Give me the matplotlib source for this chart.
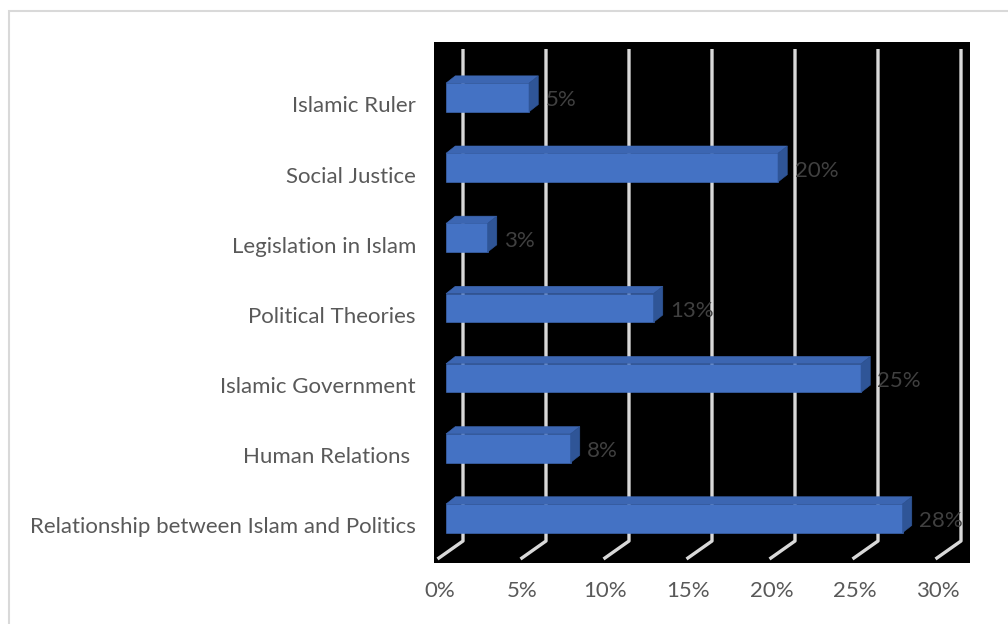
import math
import matplotlib
matplotlib.use('Agg')
import matplotlib.pyplot as plt
from matplotlib.patches import Polygon, Rectangle
from matplotlib.transforms import offset_copy

# survey topics, top to bottom, and share of responses (%)
topics = ['Islamic Ruler', 'Social Justice', 'Legislation in Islam', 'Political Theories',
          'Islamic Government', 'Human Relations ', 'Relationship between Islam and Politics']
shares = [5.0, 20.0, 2.5, 12.5, 25.0, 7.5, 27.5]
xticks = [0, 5, 10, 15, 20, 25, 30]

plt.rcParams['font.family'] = ['Lato', 'DejaVu Sans']
TEXT_SIZE = 16

W, H = 1008, 624
fig = plt.figure(figsize=(W / 100, H / 100), dpi=100)

# black plot area
ax = fig.add_axes([434 / W, 1 - 563 / H, 536 / W, 521 / H])
ax.set_facecolor('black')
PX_X = 16.6    # pixels per percent
PX_Y = 70.15   # pixels between categories
ax.set_xlim(-12 / PX_X, 524 / PX_X)
ax.set_ylim(465.5 / PX_Y, -55.5 / PX_Y)
ax.set_xticks([])
ax.set_yticks([])
for s in ax.spines.values():
    s.set_visible(False)

# 3d-style gridlines: back wall line plus slanted floor segment
back_dx, front_dx = 17 / PX_X, -8.5 / PX_X
y_top, y_back, y_front = -48.5 / PX_Y, 443.5 / PX_Y, 461.5 / PX_Y
for v in xticks:
    ax.plot([v + back_dx, v + back_dx, v + front_dx], [y_top, y_back, y_front],
            color='#d9d9d9', lw=2.4, solid_capstyle='butt', zorder=1)

# bars: front face + top + side
ypos = list(range(len(topics)))
bar_h = 28.7 / PX_Y
ddx, ddy = 9.3 / PX_X, 7.3 / PX_Y
ax.barh(ypos, shares, height=bar_h, color='#4472C4', edgecolor='#4472C4', lw=0.4, zorder=3)
for y, v in zip(ypos, shares):
    top, bot = y - bar_h / 2, y + bar_h / 2
    ax.add_patch(Polygon([(0, top), (v, top), (v + ddx, top - ddy), (ddx, top - ddy)],
                         closed=True, fc='#3c66b2', ec='#3c66b2', lw=0.4, zorder=3))
    ax.add_patch(Polygon([(v, top), (v + ddx, top - ddy), (v + ddx, bot - ddy), (v, bot)],
                         closed=True, fc='#2f5597', ec='#2f5597', lw=0.4, zorder=3))

    # value label, rounded half up like the spreadsheet does
    ax.text(v, y, f'{math.floor(v + 0.5)}%', color='#404040', fontsize=TEXT_SIZE,
            ha='left', va='baseline', zorder=4,
            transform=offset_copy(ax.transData, fig=fig, x=16.5, y=-9, units='dots'))

# category labels
for y, name in zip(ypos, topics):
    ax.text(0, y, name, color='#595959', fontsize=TEXT_SIZE, ha='right', va='baseline',
            transform=offset_copy(ax.get_yaxis_transform(), fig=fig, x=-18, y=-15, units='dots'))

# x tick labels
for v in xticks:
    ax.text(v, 0, f'{v}%', color='#595959', fontsize=TEXT_SIZE, ha='center', va='baseline',
            transform=offset_copy(ax.get_xaxis_transform(), fig=fig, x=-6.5, y=-34, units='dots'))

# chart frame
fig.add_artist(Rectangle((8.5 / W, -0.5), 2, 1.5 - 10.5 / H, transform=fig.transFigure,
                         fill=False, ec='#d9d9d9', lw=1.5))

fig.savefig('out.png', dpi=100, facecolor='white')
